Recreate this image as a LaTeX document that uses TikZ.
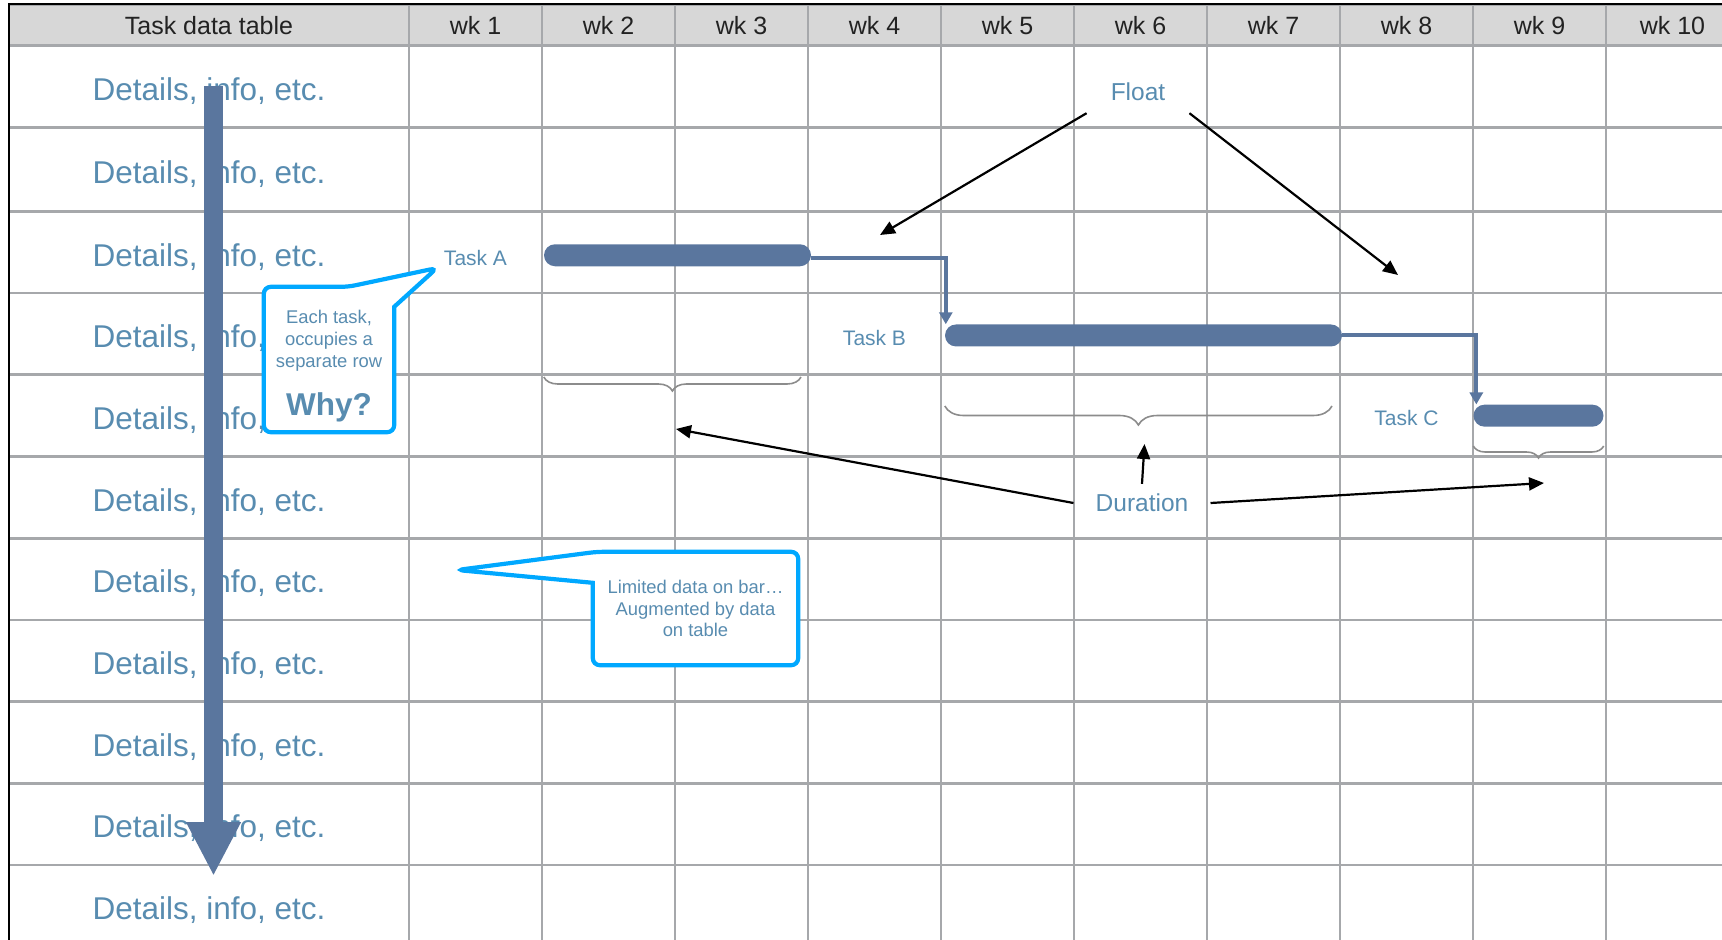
\documentclass[tikz,border=0pt]{standalone}
\usepackage{fontspec}
\setmainfont{Liberation Sans}
\usetikzlibrary{matrix,positioning,arrows.meta,decorations.pathreplacing}

\definecolor{gridgray}{RGB}{166,168,171}
\definecolor{headgray}{RGB}{215,215,215}
\definecolor{headtext}{RGB}{34,34,34}
\definecolor{infoblue}{RGB}{88,140,176}
\definecolor{barblue}{RGB}{90,118,158}
\definecolor{callblue}{RGB}{0,168,255}
\definecolor{bracegray}{RGB}{140,140,140}

\newcommand\infofont{\fontsize{31.5}{36}\selectfont}
\newcommand\headfont{\fontsize{25}{30}\selectfont}
\newcommand\taskfont{\fontsize{21}{25}\selectfont}
\newcommand\notefont{\fontsize{24.5}{29}\selectfont}
\newcommand\callfont{\fontsize{18.4}{21.6}\selectfont}
\newcommand\whyfont{\fontsize{31.5}{36}\selectfont\bfseries}

\begin{document}
\begin{tikzpicture}[x=1pt, y=-1pt,
    >={Triangle[length=15pt,width=13pt]},
    taskbar/.style={fill=barblue, rounded corners=11pt, minimum height=22pt, inner sep=0pt},
    tasklabel/.style={font=\taskfont, text=infoblue, inner sep=0pt, yshift=-2.5pt},
    dep/.style={draw=barblue, line width=4pt, -{Triangle[length=12pt,width=13pt]}},
    note/.style={font=\notefont, text=infoblue},
    pointer/.style={draw=black, line width=2.2pt, ->},
    durbrace/.style={draw=bracegray, line width=1.6pt, decorate,
        decoration={brace, mirror, amplitude=#1}},
    callbox/.style={inner sep=0pt, align=center, font=\callfont, text=infoblue},
    callline/.style={draw=callblue, fill=white, line width=4.2pt},
    flow/.style={draw=barblue, line width=19pt, -{Triangle[length=54pt,width=51pt]}}
    ]
        \useasboundingbox (0,0) rectangle (1722,940);
        \clip (0,0) rectangle (1722,940);

        % table
        \matrix (T) [
            matrix of nodes, nodes in empty cells,
            inner sep=0pt, anchor=north west,
            column sep=-2.7pt, row sep=-2.7pt,
            nodes={draw=gridgray, line width=2.7pt, outer sep=0pt, inner sep=0pt,
                anchor=center, minimum width=133pt, minimum height=81.7pt,
                font=\infofont, text=infoblue},
            column 1/.style={nodes={minimum width=400pt, text height=27.5pt, text depth=0pt}},
            row 1/.style={nodes={fill=headgray, minimum height=41.5pt,
                font=\headfont, text=headtext, text height=20pt, text depth=0pt}},
            row 3/.style={nodes={minimum height=84pt}}
        ] at (7.45,2.65)
        {
            Task data table & wk 1 & wk 2 & wk 3 & wk 4 & wk 5 & wk 6 & wk 7 & wk 8 & wk 9 & wk 10 \\
            Details, info, etc. &&&&&&&&&& \\
            Details, info, etc. &&&&&&&&&& \\
            Details, info, etc. &&&&&&&&&& \\
            Details, info, etc. &&&&&&&&&& \\
            Details, info, etc. &&&&&&&&&& \\
            Details, info, etc. &&&&&&&&&& \\
            Details, info, etc. &&&&&&&&&& \\
            Details, info, etc. &&&&&&&&&& \\
            Details, info, etc. &&&&&&&&&& \\
            Details, info, etc. &&&&&&&&&& \\
            Details, info, etc. &&&&&&&&&& \\
        };
        \draw [line width=2.2pt] (T-12-1.south west) -- (T-1-1.north west) -- (T-1-11.north east);

        % one row per task
        \coordinate (flowtop) at (213.5,86);
        \coordinate (flowend) at (213.5,876);
        \draw [flow] (flowtop) -- (flowend);

        % bars
        \node [taskbar, minimum width=267pt] (A) at ([xshift=2.5pt,yshift=-3pt]T-4-3.east) {};
        \node [taskbar, minimum width=397pt] (B) at ([xshift=3pt,yshift=-1.5pt]T-5-7) {};
        \node [taskbar, minimum width=130pt] (C) at ([xshift=-1pt]T-6-10) {};

        \node [tasklabel] (la) at (T-4-2 |- A) {Task A};
        \node [tasklabel] (lb) at (T-5-5 |- B) {Task B};
        \node [tasklabel] (lc) at (T-6-9 |- C) {Task C};

        \draw [dep] ([yshift=-3pt]A.east) -| ([xshift=1pt]B.north west);
        \draw [dep] (B.east) -| ([xshift=3pt]C.north west);

        % durations
        \draw [durbrace=14pt] (A.west |- 0,377) -- (801,377);
        \draw [durbrace=19pt] (B.west |- 0,406) -- (1332,406);
        \draw [durbrace=12pt] (C.west |- 0,446) -- (C.east |- 0,446);

        % notes
        \node [note, inner xsep=24pt, inner ysep=12pt] (float) at (1138,92) {Float};
        \coordinate (floatl) at (880,235);
        \coordinate (floatr) at (1398,275);
        \draw [pointer] (float.south west) -- (floatl);
        \draw [pointer] (float.south east) -- (floatr);

        \node [note, inner xsep=22pt, inner ysep=10pt] (dur) at (1142,503) {Duration};
        \coordinate (dura) at (676,429);
        \coordinate (durb) at (1144.5,444);
        \coordinate (durc) at (1544,483);
        \draw [pointer] (dur.west) -- (dura);
        \draw [pointer] (dur.north) -- (durb);
        \draw [pointer] (dur.east) -- (durc);

        % callouts
        \node [callbox, minimum width=130pt, minimum height=145pt] (rowbox) at (329,359.5) {};
        \coordinate (rowtip) at (437,268);
        \draw [callline] (rowbox.south west) [rounded corners=7pt] -- (rowbox.north west)
            -- ([xshift=-46pt]rowbox.north east) -- (rowtip) [sharp corners]
            -- ([yshift=-20pt]rowbox.north east) [rounded corners=7pt]
            -- (rowbox.south east) -- cycle;
        \node [callbox, below=23.5pt of rowbox.north] (rowtext) {Each task,\\occupies a\\separate row};
        \node [callbox, font=\whyfont, above=10pt of rowbox.south] (why) {Why?};

        \node [callbox, minimum width=205pt, minimum height=113pt] (tablebox) at (695.5,608.5) {};
        \coordinate (tabletip) at (457,570);
        \draw [callline] (tablebox.north east) [rounded corners=7pt]
            -- ([xshift=4pt]tablebox.north west) -- (tabletip) [sharp corners]
            -- ([yshift=-31pt]tablebox.north west) [rounded corners=7pt]
            -- (tablebox.south west) -- (tablebox.south east) -- cycle;
        \node [callbox] (tabletext) at (tablebox) {Limited data on bar…\\Augmented by data\\on table};
    \end{tikzpicture}
\end{document}
